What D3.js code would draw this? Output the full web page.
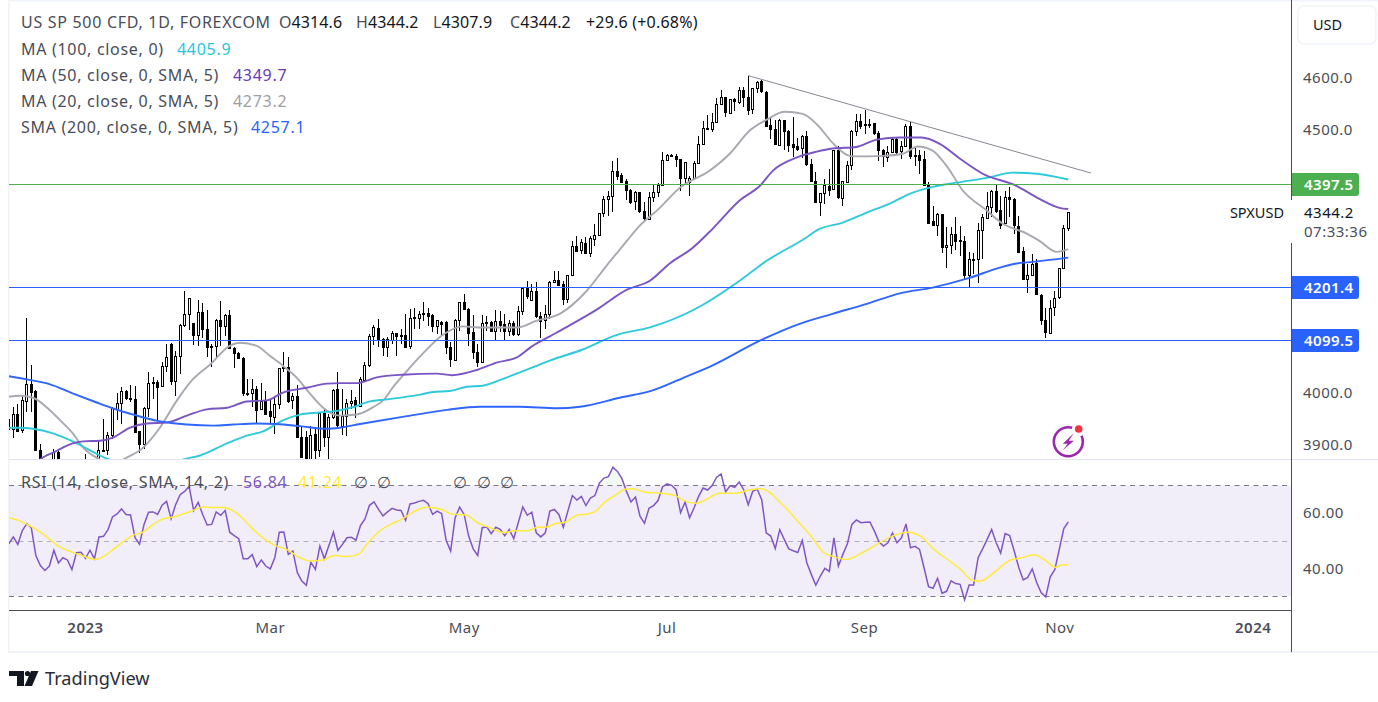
<!DOCTYPE html>
<html><head><meta charset="utf-8">
<script src="https://cdnjs.cloudflare.com/ajax/libs/d3/7.8.5/d3.min.js"></script>
<style>html,body{margin:0;padding:0;background:#fff;overflow:hidden}svg{display:block}text{font-family:"Noto Sans",sans-serif}</style>
</head><body><svg id="c" width="1378" height="702"></svg>
<script>
const opens=[3950,3931,3959,3927,3983,4016,4002,3891,3855,3835,
3850,3886,3858,3845,3865,3845,3835,3850,3868,3850,
3860,3889,3891,3920,3969,3980,4003,3989,3988,3926,
3902,3971,4020,4021,4012,4050,4093,4023,4069,4129,
4150,4132,4110,4154,4121,4089,4088,4138,4127,4148,
4085,4075,4066,3998,3999,4007,3968,3984,3964,3955,
3978,4049,4049,3985,3994,3916,3915,3865,3921,3891,
3961,3915,3953,4006,3937,3955,3980,3985,3974,4025,
4053,4107,4123,4102,4086,4101,4113,4110,4110,4088,
4144,4142,4152,4152,4148,4127,4134,4134,4087,4063,
4138,4173,4160,4116,4078,4058,4135,4135,4118,4137,
4131,4117,4133,4112,4156,4199,4177,4194,4146,4138,
4150,4210,4214,4207,4178,4224,4280,4270,4285,4265,
4293,4300,4342,4369,4375,4423,4415,4404,4386,4365,
4382,4346,4332,4372,4382,4396,4443,4453,4451,4445,
4408,4401,4408,4437,4474,4504,4502,4515,4550,4563,
4533,4559,4555,4577,4563,4540,4580,4594,4573,4509,
4502,4471,4519,4499,4474,4470,4465,4488,4435,4403,
4363,4380,4394,4388,4462,4372,4402,4434,4499,4518,
4512,4512,4513,4494,4462,4450,4458,4484,4460,4469,
4507,4453,4453,4445,4396,4326,4319,4340,4277,4281,
4302,4291,4289,4225,4255,4255,4310,4334,4355,4385,
4348,4324,4373,4369,4318,4270,4216,4224,4246,4186,
4138,4115,4164,4181,4237,4314.6];
const highs=[3962,3973,3978,3994,4142,4053,4004,3902,3866,3860,
3892,3889,3868,3873,3870,3866,3860,3882,3870,3868,
3908,3950,3924,3972,3999,4010,4005,4014,4013,3927,
3972,4040,4029,4023,4059,4093,4094,4080,4130,4194,
4180,4133,4177,4170,4157,4093,4140,4174,4149,4157,
4086,4077,4067,4026,4025,4013,4018,4002,3985,3992,
4047,4078,4067,3999,4015,3937,3927,3937,3934,3962,
3970,3959,4007,4040,4007,3988,4004,3992,4029,4058,
4112,4129,4140,4104,4105,4118,4114,4121,4150,4159,
4162,4156,4172,4162,4149,4139,4137,4136,4096,4140,
4173,4187,4161,4148,4093,4147,4145,4137,4158,4156,
4150,4138,4137,4164,4202,4213,4207,4210,4154,4166,
4212,4232,4232,4213,4224,4289,4299,4293,4296,4299,
4321,4342,4375,4385,4441,4447,4418,4407,4387,4385,
4383,4363,4382,4397,4399,4459,4455,4455,4455,4446,
4439,4413,4442,4488,4518,4528,4533,4561,4577,4564,
4559,4561,4582,4582,4604,4581,4593,4596,4574,4524,
4519,4521,4520,4500,4526,4486,4491,4499,4446,4420,
4380,4407,4426,4463,4470,4404,4441,4500,4531,4531,
4538,4521,4514,4498,4464,4470,4486,4485,4480,4512,
4515,4466,4462,4461,4402,4356,4342,4341,4315,4315,
4334,4318,4298,4268,4265,4324,4340,4382,4386,4396,
4375,4385,4392,4370,4337,4277,4245,4264,4255,4187,
4162,4176,4194,4238,4319,4344.2];
const lows=[3912,3914,3925,3923,3962,3962,3888,3845,3830,3825,
3840,3850,3830,3835,3840,3825,3825,3840,3840,3835,
3850,3887,3880,3912,3947,3940,3986,3981,3924,3884,
3893,3953,3988,3947,4011,4039,4015,3993,4035,4124,
4120,4091,4088,4103,4068,4049,4068,4089,4108,4083,
4046,4064,3994,3994,3972,3941,3966,3958,3940,3921,
3969,4039,3980,3969,3914,3876,3850,3860,3868,3877,
3897,3873,3950,3934,3920,3918,3969,3951,3973,4023,
4048,4091,4086,4070,4068,4093,4070,4093,4086,4083,
4121,4122,4137,4127,4115,4112,4110,4073,4048,4061,
4118,4158,4088,4064,4048,4057,4118,4116,4099,4115,
4099,4107,4107,4107,4147,4178,4174,4142,4103,4121,
4140,4209,4204,4166,4170,4223,4267,4264,4264,4259,
4280,4298,4334,4336,4345,4405,4400,4367,4359,4347,
4342,4329,4330,4363,4372,4395,4441,4448,4429,4385,
4397,4375,4405,4435,4473,4500,4496,4513,4548,4526,
4532,4536,4550,4545,4528,4531,4570,4570,4508,4484,
4472,4470,4462,4458,4449,4460,4447,4432,4401,4362,
4336,4359,4375,4387,4369,4356,4400,4425,4488,4502,
4493,4505,4491,4441,4429,4439,4456,4455,4445,4467,
4446,4432,4416,4395,4323,4317,4298,4265,4237,4264,
4272,4261,4215,4201,4225,4208,4255,4333,4334,4343,
4312,4323,4334,4302,4267,4215,4189,4222,4185,4128,
4103,4113,4145,4179,4235,4307.9];
const closes=[3930,3959,3927,3985,4016,4000,3889,3855,3835,3850,
3886,3858,3845,3865,3845,3835,3850,3868,3850,3860,
3891,3891,3920,3971,3980,4003,3989,3988,3925,3902,
3971,4018,4018,4012,4050,4067,4023,4070,4129,4150,
4180,4110,4154,4121,4086,4087,4138,4127,4148,4085,
4075,4065,3999,4000,4007,3967,3983,3960,3955,3979,
4047,4047,3985,3993,3915,3877,3860,3920,3891,3961,
3915,3953,4005,3937,3956,3980,3984,3974,4025,4053,
4108,4124,4101,4086,4102,4114,4108,4108,4088,4142,
4142,4150,4150,4147,4127,4139,4130,4086,4064,4139,
4173,4159,4115,4077,4058,4133,4133,4118,4137,4129,
4117,4133,4112,4156,4200,4183,4194,4147,4137,4150,
4211,4214,4205,4178,4224,4280,4270,4286,4266,4294,
4300,4342,4369,4375,4423,4413,4402,4386,4364,4382,
4345,4332,4373,4382,4396,4443,4453,4451,4445,4408,
4439,4409,4437,4474,4504,4502,4516,4550,4563,4534,
4559,4555,4577,4563,4539,4580,4592,4574,4509,4501,
4474,4519,4498,4472,4469,4465,4488,4434,4402,4363,
4380,4395,4387,4462,4372,4404,4434,4499,4518,4509,
4510,4511,4493,4462,4450,4459,4483,4459,4470,4507,
4450,4451,4444,4396,4324,4318,4340,4277,4281,4302,
4289,4289,4225,4255,4254,4310,4335,4356,4385,4347,
4319,4373,4369,4319,4268,4216,4224,4245,4186,4138,
4115,4162,4181,4237,4314,4344.2];

const sma200Bars=[0,4,9,14,19.5,23,28,33,36,39.5,45.4,49.8,55,59.4,64.6,70.5,73.4,77.9,88.3,97.2,104.5,113.3,121.6,126.7,135.5,142.8,150.4,155.9,166.6,175.4,182.7,190.3,197.6,204.9,212.5,219.8,223.5,227.1,235];
const sma200Vals=[4031,4025,4016,3999,3981,3970,3957,3946,3942,3939,3937,3939,3941,3940,3936,3931,3933,3940,3955,3967,3973,3973,3970,3973,3990,4004,4031,4051,4099,4131,4150,4169,4189,4200,4217,4238,4246,4249,4257.1];
const ma100Bars=[0,2.5,5.4,9.8,15.1,20.2,22.4,26.9,31.3,35.7,38.6,42.4,48.4,52.8,56.4,60.8,64.6,69,73.4,76.3,80.1,83.9,91.2,94.1,97.8,101.6,105.1,110.5,117.1,120,127.3,134.9,142.2,153.3,162.1,168.1,177,179.2,185,190.3,195.4,200.5,204.9,210.2,216.9,222.7,228,235];
const ma100Vals=[3933,3933,3931,3922,3903,3880,3872,3861,3853,3861,3872,3880,3903,3918,3926,3947,3958,3962,3966,3972,3983,3987,3996,4001,4003,4011,4013,4029,4051,4061,4082,4110,4124,4164,4213,4251,4296,4309,4324,4343,4360,4381,4392,4400,4409,4419,4417,4405.9];
const ma50Bars=[4.7,6.9,10.7,12.9,16.5,20.2,23.1,26.9,30.6,35.1,39.5,43.9,48.4,52.8,57.2,60.8,66.1,70.6,73.4,77.2,81.6,87.4,94.9,98.3,103.8,108.2,112.7,116,120,124.4,130.4,137.1,142.2,146.6,151.7,156.1,162.1,166.6,169.5,174.8,179.2,182.7,188,192.5,197.6,202.4,206.5,210.9,216,223.5,228.6,233,235];
const ma50Vals=[3851,3872,3889,3899,3907,3908,3914,3933,3941,3943,3956,3968,3971,3983,3985,4000,4009,4017,4018,4018,4029,4034,4036,4033,4043,4057,4067,4088,4107,4128,4158,4196,4213,4246,4276,4312,4366,4394,4423,4448,4459,4465,4468,4482,4486,4486,4474,4446,4417,4394,4369,4352,4349.7];
const ma20Bars=[0,2.5,5.4,8.5,11.4,14.2,16.5,20.2,22.9,25.3,29.8,33.5,37.3,40.6,44.6,49,51.3,55,57.9,60.8,63.9,66.8,69.7,73.4,77.2,80.8,83.4,85.2,87.4,91.8,96.3,100.7,105.1,112.7,117.1,122.2,128.2,132.6,137.1,139.3,144.4,148.8,155.5,159.9,164.3,168.1,172.1,176.1,179.9,182.7,187.2,193.9,198.3,201.6,204.9,208,211.6,216.9,220.4,225.8,228.6,232.4,235];
const ma20Vals=[3992,3994,3990,3971,3947,3922,3895,3872,3859,3872,3895,3933,3985,4023,4053,4089,4095,4089,4070,4051,4028,3998,3971,3956,3958,3972,3988,4010,4032,4074,4110,4126,4124,4124,4137,4150,4194,4242,4289,4312,4352,4390,4423,4455,4499,4520,4535,4531,4505,4476,4450,4451,4455,4469,4461,4432,4385,4347,4322,4303,4289,4268,4273.2];

const rsiValues=[48.9,51.4,48.7,53.7,56.2,54.7,44.7,41.1,39.3,40.9,
46.6,42.0,43.9,43.1,39.6,45.7,45.9,43.7,46.6,43.5,
51.4,51.6,54.0,58.6,59.7,61.5,59.5,59.3,51.1,48.8,
55.9,60.3,60.4,59.5,62.8,64.2,57.9,63.0,66.6,67.8,
69.6,60.9,63.9,59.5,55.7,55.9,60.4,59.2,60.9,53.1,
51.9,50.8,43.5,43.5,45.0,40.7,43.1,40.9,39.9,43.9,
53.1,53.2,45.1,46.3,38.5,35.5,34.0,42.3,39.7,48.1,
43.5,48.3,53.1,46.6,48.7,51.1,51.3,50.2,55.5,57.9,
62.8,64.0,61.3,59.0,60.4,61.7,61.1,60.9,57.4,63.3,
63.6,64.2,64.6,63.4,59.5,60.7,59.8,50.2,46.3,58.3,
62.1,59.5,51.7,47.1,44.7,54.7,55.0,52.6,54.9,54.1,
51.8,54.1,50.8,56.5,62.2,59.2,60.3,52.9,51.4,52.9,
60.7,61.3,59.5,54.9,60.7,66.3,64.7,66.0,62.7,65.4,
66.3,70.8,72.6,73.1,76.5,75.0,72.4,67.8,64.0,65.8,
58.9,56.3,61.7,62.7,64.5,69.4,70.5,70.0,68.4,60.1,
64.0,58.3,61.9,66.0,69.0,68.3,69.9,72.9,74.1,67.6,
69.9,69.3,71.2,68.4,63.0,67.8,68.6,64.8,52.9,51.7,
47.2,54.0,50.5,47.1,46.4,45.8,50.1,42.1,37.9,34.0,
37.3,40.1,39.0,51.1,40.9,45.1,48.9,55.9,57.5,56.5,
56.7,56.8,53.5,49.6,48.1,49.3,52.8,49.3,51.1,56.1,
47.5,48.0,46.9,40.3,33.5,32.9,36.5,31.1,31.8,35.6,
34.6,34.3,28.7,34.1,34.1,43.9,47.1,50.5,54.1,49.3,
45.6,52.6,51.9,46.3,40.5,35.9,36.8,39.9,34.9,31.3,
29.8,37.0,39.6,46.9,54.4,56.84];
const rsiMaBars=[0.1,2.5,4.1,7.7,11,13.9,16.5,19.1,21,23.2,26.1,28,29.5,32,34.3,36.5,38.7,40.5,43.1,45.4,47.6,50.5,54.2,57.2,59.4,61.6,64.6,66.8,69.7,72.3,74.9,77.5,79.7,81.9,84.9,87.1,89.7,92.7,96,98.2,101.4,104,107.3,109.9,112.1,115.1,117.3,119.1,121.4,123.2,126.2,128,129.9,132.4,134.7,136.6,138.4,140.9,145,147.6,150.2,152.4,154.6,157.6,161.3,164.2,166.8,171.6,175.3,177.9,180.8,182.7,185.7,189.3,191.9,195.6,199.3,202.2,205.2,208.5,211.1,213.7,215.5,218.9,222.2,224.8,227.4,229.6,232.2,233.6,235];
const rsiMaVals=[58.3,57.1,55.9,52.3,48.1,46.0,44.5,43.3,44.3,46.9,50.5,52.3,52.9,55.9,57.9,58.6,59.7,60.7,62.2,62.0,62.0,60.1,54.1,50.1,48.1,46.9,43.9,42.7,43.1,44.7,44.3,45.1,49.3,53.1,56.1,57.7,60.4,62.1,61.3,59.7,59.3,56.5,54.4,52.9,53.6,53.6,54.9,54.9,56.2,56.6,59.3,59.6,60.4,64.2,66.6,68.6,68.8,67.6,67.1,66.4,64.2,63.5,64.8,67.1,67.1,68.3,68.8,63.0,56.5,51.7,45.7,44.4,43.3,45.7,48.1,51.4,53.1,51.7,46.9,42.9,39.7,35.8,35.5,39.1,43.1,43.9,45.0,43.3,40.5,41.3,41.24];

const levelPrices=[4397.5,4201.4,4099.5];
const levelColors=["#4caf50","#2962ff","#2962ff"];
const trendBars=[164,240], trendPrices=[4604,4418.4];
const priceTicks=[4600,4500,4000,3900];
const rsiTicks=[60,40], rsiBands=[70,50,30];
const timeTickBars=[16.9,57.9,100.9,145.9,189.7,233,275.9];
const timeTickLabels=["2023","Mar","May","Jul","Sep","Nov","2024"];
const legendRows=[["MA (100, close, 0)","4405.9","#26c6da",177],["MA (50, close, 0, SMA, 5)","4349.7","#673ab7",233],["MA (20, close, 0, SMA, 5)","4273.2","#9e9ea6",233],["SMA (200, close, 0, SMA, 5)","4257.1","#2962ff",251]];

const svg=d3.select("#c");
const INK="#4a4d58", FRAME="#f0f3fa", F='"Noto Sans",sans-serif', LS=0.7, TLS=0.5;
const x=d3.scaleLinear().domain([0,235]).range([8.8,1068.3]);
const y=d3.scaleLinear().domain([3900,4600]).range([445,77.7]);
const yR=d3.scaleLinear().domain([30,70]).range([596.3,485.3]);

const defs=svg.append("defs");
defs.append("clipPath").attr("id","main").append("rect").attr("x",9).attr("y",1).attr("width",1282).attr("height",458);
defs.append("clipPath").attr("id","rsi").append("rect").attr("x",9).attr("y",460).attr("width",1282).attr("height",150);
defs.append("clipPath").attr("id","above").append("rect").attr("x",9).attr("y",460).attr("width",1282).attr("height",yR(70)-460);

// frame
svg.append("rect").attr("x",8).attr("y",0).attr("width",1370).attr("height",1.5).attr("fill",FRAME);
svg.append("rect").attr("x",8).attr("y",0).attr("width",1.5).attr("height",653).attr("fill",FRAME);
svg.append("rect").attr("x",8).attr("y",651).attr("width",1370).attr("height",2).attr("fill",FRAME);
svg.append("line").attr("x1",9).attr("x2",1378).attr("y1",459.5).attr("y2",459.5).attr("stroke","#e0e3eb");

// candles
const main=svg.append("g").attr("clip-path","url(#main)");
const bars=d3.range(opens.length);
const cx=i=>Math.floor(x(i))+0.5;
const cg=main.append("g").attr("shape-rendering","crispEdges");
cg.selectAll("line.w").data(bars).join("line").attr("class","w").attr("x1",cx).attr("x2",cx)
 .attr("y1",i=>y(highs[i])).attr("y2",i=>y(lows[i])).attr("stroke","#000");
cg.selectAll("rect.b").data(bars).join("rect").attr("class","b").attr("x",i=>cx(i)-1).attr("width",2)
 .attr("y",i=>Math.round(y(Math.max(opens[i],closes[i])))+.5)
 .attr("height",i=>Math.max(1,Math.round(Math.abs(y(opens[i])-y(closes[i])))))
 .attr("fill",i=>closes[i]>=opens[i]?"#fff":"#000").attr("stroke","#000");

// moving averages
const line=d3.line().x(d=>x(d[0])).y(d=>y(d[1])).curve(d3.curveMonotoneX);
[[ma20Bars,ma20Vals,"#a8a8b0"],[ma100Bars,ma100Vals,"#2fc9dc"],[ma50Bars,ma50Vals,"#7a55c4"],[sma200Bars,sma200Vals,"#2f66ff"]].forEach(([b,v,c])=>{
 main.append("path").attr("d",line(b.map((d,i)=>[d,v[i]]))).attr("fill","none").attr("stroke",c).attr("stroke-width",1.9);
});
main.append("line").attr("x1",x(trendBars[0])).attr("y1",y(trendPrices[0])).attr("x2",x(trendBars[1])).attr("y2",y(trendPrices[1])).attr("stroke","#868993").attr("stroke-width",1);
levelPrices.forEach((p,i)=>{const ly0=Math.round(y(p))+.5;main.append("line").attr("x1",9).attr("x2",1291).attr("y1",ly0).attr("y2",ly0).style("stroke",levelColors[i]).attr("stroke-width",1);});

// icon
const icon=svg.append("g").attr("transform","translate(1068.3,441.7)");
icon.append("path").attr("d",d3.arc()({innerRadius:13.2,outerRadius:15.8,startAngle:1.15,endAngle:6.55})).attr("fill","#9c27b0");
icon.append("path").attr("d","M5.5,-8.5 L-5.5,2 L-0.5,2 L-5.5,8.5 L5.5,-1 L0.5,-1 Z").attr("fill","#9c27b0");
icon.append("circle").attr("cx",10.4).attr("cy",-12.7).attr("r",3.8).attr("fill","#f7323f");

// RSI pane
const rp=svg.append("g").attr("clip-path","url(#rsi)");
rp.append("rect").attr("x",9).attr("width",1282).attr("y",yR(70)).attr("height",yR(30)-yR(70)).attr("fill","#7e57c2").attr("fill-opacity",.1);
const rsiPts=rsiValues.map((v,i)=>[i,v]);
rp.append("path").attr("clip-path","url(#above)").attr("d",d3.area().x(d=>x(d[0])).y0(yR(70)).y1(d=>yR(d[1]))(rsiPts)).attr("fill","#4caf50").attr("fill-opacity",.07);
rsiBands.forEach(b=>{const by=Math.round(yR(b))+.5;rp.append("line").attr("x1",9).attr("x2",1291).attr("y1",by).attr("y2",by)
  .attr("stroke",b===50?"#b2b0bb":"#787b86").attr("stroke-dasharray","5 4.5");});
const rl=d3.line().x(d=>x(d[0])).y(d=>yR(d[1]));
rp.append("path").attr("d",rl(rsiPts)).attr("fill","none").attr("stroke","#7e57c2").attr("stroke-width",1.5);
rp.append("path").attr("d",rl.curve(d3.curveMonotoneX)(rsiMaBars.map((b,i)=>[b,rsiMaVals[i]]))).attr("fill","none").attr("stroke","#ffeb3b").attr("stroke-width",1.5);

// axis lines
svg.append("line").attr("x1",9).attr("x2",1291.5).attr("y1",610.5).attr("y2",610.5).attr("stroke",INK);
svg.append("line").attr("x1",1291.5).attr("x2",1291.5).attr("y1",0).attr("y2",200).attr("stroke",INK);
svg.append("line").attr("x1",1291.5).attr("x2",1291.5).attr("y1",243).attr("y2",652).attr("stroke",INK);

// axes
const styleAxis=(g,size)=>{g.select(".domain").remove();g.selectAll(".tick line").remove();g.selectAll("text").attr("fill",INK).attr("font-size",size).attr("font-family",F).attr("letter-spacing",TLS);};
svg.append("g").attr("transform","translate(1303,0)").call(d3.axisRight(y).tickValues(priceTicks).tickSize(0).tickPadding(0).tickFormat(d3.format(".1f"))).call(g=>styleAxis(g,15));
svg.append("g").attr("transform","translate(1303,0)").call(d3.axisRight(yR).tickValues(rsiTicks).tickSize(0).tickPadding(0).tickFormat(d3.format(".2f"))).call(g=>styleAxis(g,15));
svg.append("g").attr("transform","translate(0,622)").call(d3.axisBottom(x).tickValues(timeTickBars).tickSize(0).tickPadding(0).tickFormat((d,i)=>timeTickLabels[i])).call(g=>{styleAxis(g,15);
  g.selectAll("text").attr("font-weight",(d,i)=>/^\d/.test(timeTickLabels[i])?600:400);});

// price tags
levelPrices.forEach((p,i)=>{
  const yc=Math.round(y(p))+.5;
  svg.append("path").attr("d",`M1292,${yc-11.5}h64a3,3 0 0 1 3,3v17a3,3 0 0 1 -3,3h-64z`).attr("fill",levelColors[i]);
  svg.append("text").attr("x",1304).attr("y",yc+.5).attr("dy",".35em").attr("fill","#fff").attr("font-size",15).attr("font-weight",600).attr("letter-spacing",.4).text(d3.format(".1f")(p));
});
svg.append("text").attr("x",1284).attr("y",213).attr("dy",".35em").attr("text-anchor","end").attr("fill","#131722").attr("font-size",14.5).text("SPXUSD");
svg.append("text").attr("x",1304).attr("y",213).attr("dy",".35em").attr("fill","#131722").attr("font-size",15).attr("letter-spacing",TLS).text("4344.2");
svg.append("text").attr("x",1304).attr("y",232).attr("dy",".35em").attr("fill",INK).attr("font-size",15).attr("letter-spacing",TLS).text("07:33:36");

// USD button
svg.append("rect").attr("x",1298).attr("y",6).attr("width",78).attr("height",38).attr("rx",6).attr("fill","#fff").attr("stroke",FRAME).attr("stroke-width",1.5);
svg.append("text").attr("x",1313).attr("y",25).attr("dy",".35em").attr("fill","#131722").attr("font-size",14.5).text("USD");

// legend
const hdr=svg.append("text").attr("y",22).attr("dy",".35em").attr("font-size",16).attr("letter-spacing",LS).attr("fill",INK);
hdr.append("tspan").attr("x",21).text("US SP 500 CFD, 1D, FOREXCOM");
[["O","4314.6",279],["H","4344.2",356],["L","4307.9",433],["C","4344.2",510]].forEach(([k,v,px])=>{
  hdr.append("tspan").attr("x",px).attr("letter-spacing",0.1).text(k);
  hdr.append("tspan").attr("fill","#131722").attr("letter-spacing",0.1).text(v);
});
svg.append("text").attr("x",586).attr("y",22).attr("dy",".35em").attr("font-size",16).attr("letter-spacing",0.2).attr("fill","#131722").text("+29.6 (+0.68%)");
legendRows.forEach(([t,v,c,px],i)=>{
  const ty=49+i*26;
  svg.append("text").attr("x",21).attr("y",ty).attr("dy",".35em").attr("font-size",16).attr("letter-spacing",LS).attr("fill",INK).text(t);
  svg.append("text").attr("x",px).attr("y",ty).attr("dy",".35em").attr("font-size",16).attr("letter-spacing",LS).attr("fill",c).text(v);
});
const ly=482;
svg.append("text").attr("x",21).attr("y",ly).attr("dy",".35em").attr("font-size",16).attr("letter-spacing",LS).attr("fill",INK).text("RSI (14, close, SMA, 14, 2)");
svg.append("text").attr("x",243).attr("y",ly).attr("dy",".35em").attr("font-size",16).attr("letter-spacing",LS).attr("fill","#7e57c2").text("56.84");
svg.append("text").attr("x",298).attr("y",ly).attr("dy",".35em").attr("font-size",16).attr("letter-spacing",LS).attr("fill","#ffeb3b").text("41.24");
[354,377,453,477,500].forEach(px=>svg.append("text").attr("x",px).attr("y",ly).attr("dy",".35em").attr("font-size",16).attr("fill",INK).text("∅"));

// logo
const logo=svg.append("g").attr("fill","#131722");
logo.append("path").attr("d","M9,671H24V686H17V676H9Z");
logo.append("circle").attr("cx",27.5).attr("cy",673.5).attr("r",2.6);
logo.append("path").attr("d","M31,671H38.5L32,686H24.5Z");
svg.append("text").attr("x",45).attr("y",679).attr("dy",".35em").attr("font-size",18.2).attr("fill","#2a2e39").text("TradingView");
</script></body></html>
